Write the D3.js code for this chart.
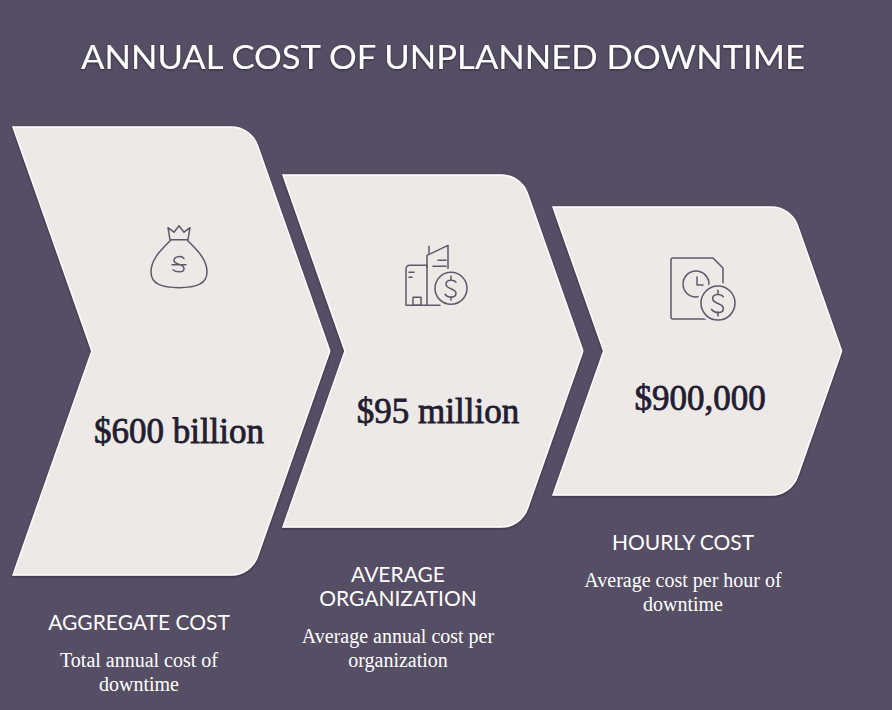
<!DOCTYPE html>
<html>
<head>
<meta charset="utf-8">
<script src="https://cdn.jsdelivr.net/npm/d3@7"></script>
<style>
  html, body { margin: 0; padding: 0; background: #564e64; }
  svg { display: block; }
</style>
</head>
<body>
<svg id="chart"></svg>
<script>
// chart data
const chartTitle = 'ANNUAL COST OF UNPLANNED DOWNTIME';
const steps = ['aggregate', 'organization', 'hourly'];
const stepTitles = [['AGGREGATE COST'], ['AVERAGE', 'ORGANIZATION'], ['HOURLY COST']];
const stepValues = ['$600 billion', '$95 million', '$900,000'];
const stepNotes = [
    ['Total annual cost of', 'downtime'],
    ['Average annual cost per', 'organization'],
    ['Average cost per hour of', 'downtime']
];
const stepIcons = ['bag', 'building', 'clock'];

const width = 892;
const height = 710;
const bg = '#564e64';
const shapeFill = '#ede9e7';
const iconColor = '#5e596a';
const valueColor = '#231d31';

const svg = d3.select('#chart').attr('width', width).attr('height', height);
svg.append('rect').attr('width', width).attr('height', height).attr('fill', bg);

const idx = d3.range(steps.length);

// layout scales: each chevron gets smaller from left to right
const xLeft = d3.scalePoint().domain(idx).range([13, 553]);
const halfH = d3.scaleLinear().domain([0, 1, 2]).range([224, 176, 144]);
const contentX = d3.scaleLinear().domain([0, 1, 2]).range([179, 438, 700]);
const labelX = d3.scaleLinear().domain([0, 1, 2]).range([139, 398, 683]);
const cy = 351;
const bodyW = 238;
const slope = 0.352;
const cornerR = 28;

function chevronPath(i) {
    const x0 = xLeft(i);
    const h = halfH(i);
    const top = cy - h, bottom = cy + h;
    const depth = h * slope;
    const xr = x0 + bodyW;
    const p = d3.path();
    p.moveTo(x0, top);
    p.arcTo(xr, top, xr + depth, cy, cornerR);
    p.arcTo(xr + depth, cy, xr, bottom, 4);
    p.arcTo(xr, bottom, x0, bottom, cornerR);
    p.lineTo(x0, bottom);
    p.lineTo(x0 + depth, cy);
    p.closePath();
    return p.toString();
}

const defs = svg.append('defs');
const sh = defs.append('filter').attr('id', 'shadow').attr('x', '-10%').attr('y', '-10%').attr('width', '120%').attr('height', '120%');
sh.append('feDropShadow').attr('dx', 0).attr('dy', 1).attr('stdDeviation', 1.2).attr('flood-color', '#1c1626').attr('flood-opacity', 0.6);

// title
svg.append('text')
    .attr('x', 443).attr('y', 69)
    .attr('text-anchor', 'middle')
    .attr('textLength', 724).attr('lengthAdjust', 'spacingAndGlyphs')
    .style('font-family', 'Lato, "Open Sans", sans-serif')
    .style('font-size', '32px')
    .attr('fill', '#ffffff')
    .attr('filter', 'url(#shadow)')
    .text(chartTitle);

const step = svg.selectAll('.step').data(idx).enter().append('g').attr('class', 'step');

step.append('path')
    .attr('d', i => chevronPath(i))
    .attr('fill', shapeFill)
    .attr('stroke', '#ffffff')
    .attr('stroke-width', 1.4)
    .attr('filter', 'url(#shadow)');

// icons
function coin(g, cx, cyc, r) {
    g.append('circle').attr('cx', cx).attr('cy', cyc).attr('r', r + 3.5).attr('fill', shapeFill).attr('stroke', 'none');
    g.append('circle').attr('cx', cx).attr('cy', cyc).attr('r', r);
    const k = r / 16;
    g.append('path')
        .attr('transform', `translate(${cx},${cyc}) scale(${k})`)
        .attr('d', 'M5,-6 C3,-9 -5,-9 -5,-4 C-5,1 5,0 5,5 C5,10 -3,10 -6,6 M0,-12 V-8.5 M0,8.5 V12');
}

function drawIcon(g, kind) {
    g.attr('fill', 'none').attr('stroke', iconColor).attr('stroke-width', 1.5)
        .attr('stroke-linecap', 'round').attr('stroke-linejoin', 'round');
    if (kind === 'bag') {
        const b = g.append('g').attr('transform', 'translate(0,3)');
        b.append('path').attr('d', 'M-9,-18 L-11,-30 L-5,-25.5 L0,-32 L5,-25.5 L11,-30 L9,-18 Z');
        b.append('path').attr('d', 'M-8,-18 C-15,-10 -28,0 -28,14 C-28,26 -18,30 0,30 C18,30 28,26 28,14 C28,0 15,-10 8,-18');
        b.append('path').attr('d', 'M5,1 C3,-2 -5,-2 -5,3 C-5,7 5,6 5,11 C5,15 -3,15 -6,12 M-7,7 H7');
    } else if (kind === 'building') {
        g.append('path').attr('d', 'M-11,30 V-10 H-28 Q-32,-10 -32,-6 V30 H2');
        g.append('path').attr('d', 'M-11,-8 V-20 L10,-30 V0');
        g.append('path').attr('d', 'M-9,-29 V-22 M0,-15 H8 M-5,-9 H8 M-29,-3 H-24 M-29,2 H-26');
        g.append('rect').attr('x', -25).attr('y', 22).attr('width', 8).attr('height', 8);
        coin(g, 13, 13, 16);
    } else {
        g.append('path').attr('d', 'M-27,-31 H13 L23,-21 V30 H-27 Q-29,30 -29,28 V-29 Q-29,-31 -27,-31 Z');
        g.append('circle').attr('cx', -4).attr('cy', -5).attr('r', 13);
        g.append('path').attr('d', 'M-3,-12 V-4 H3');
        coin(g, 18, 14, 17);
    }
}

step.append('g')
    .attr('transform', i => `translate(${contentX(i)},${cy - 0.43 * halfH(i)})`)
    .each(function (i) { drawIcon(d3.select(this), stepIcons[i]); });

// values
step.append('text')
    .attr('x', i => contentX(i))
    .attr('y', i => cy + 0.41 * halfH(i))
    .attr('text-anchor', 'middle')
    .style('font-family', '"Liberation Serif", serif')
    .style('font-size', '35px')
    .attr('fill', valueColor)
    .attr('stroke', valueColor)
    .attr('stroke-width', 0.8)
    .text(i => stepValues[i]);

// labels under each chevron
const label = step.append('g')
    .attr('transform', i => `translate(${labelX(i)},${cy + halfH(i) + 55})`);

label.each(function (i) {
    const g = d3.select(this);
    const t = stepTitles[i];
    t.forEach((line, j) => {
        g.append('text')
            .attr('x', 0).attr('y', j * 24)
            .attr('text-anchor', 'middle')
            .style('font-family', 'Lato, sans-serif')
            .style('font-size', '21px')
            .attr('fill', '#ffffff')
            .text(line);
    });
    const off = (t.length - 1) * 24 + 37;
    stepNotes[i].forEach((line, j) => {
        g.append('text')
            .attr('x', 0).attr('y', off + j * 24)
            .attr('text-anchor', 'middle')
            .style('font-family', '"Liberation Serif", serif')
            .style('font-size', '20px')
            .attr('fill', '#ffffff')
            .text(line);
    });
});
</script>
</body>
</html>
